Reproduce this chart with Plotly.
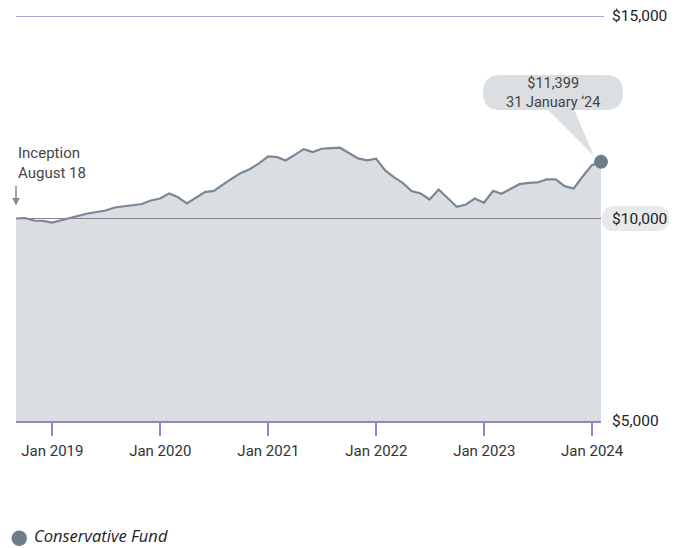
import plotly.graph_objects as go
import pandas as pd

# ---- data ----
dates = pd.date_range("2018-08-31", "2024-01-31", freq="ME")
values = [
    10000, 10012, 9951, 9940, 9901,            # Aug-Dec 2018
    9963, 10012, 10062, 10124, 10161, 10198,   # Jan-Jun 2019
    10272, 10297, 10321, 10358, 10445, 10494,  # Jul-Dec 2019
    10618, 10531, 10371, 10507, 10650, 10680,  # Jan-Jun 2020
    10840, 10989, 11125, 11224, 11360, 11533,  # Jul-Dec 2020
    11515, 11434, 11570, 11713, 11639, 11723,  # Jan-Jun 2021
    11738, 11748, 11619, 11483, 11434, 11478,  # Jul-Dec 2021
    11187, 11026, 10878, 10680, 10618, 10470,  # Jan-Jun 2022
    10717, 10512, 10289, 10346, 10494, 10388,  # Jul-Dec 2022
    10685, 10611, 10742, 10848, 10878, 10890,  # Jan-Jun 2023
    10964, 10964, 10798, 10742, 11038, 11318,  # Jul-Dec 2023
    11399,                                     # Jan 2024
]
x_tick_vals = ["2019-01-01", "2020-01-01", "2021-01-01", "2022-01-01", "2023-01-01", "2024-01-01"]
x_tick_text = ["Jan 2019", "Jan 2020", "Jan 2021", "Jan 2022", "Jan 2023", "Jan 2024"]
y_tick_vals = [5000, 10000, 15000]
y_tick_text = ["$5,000", "$10,000", "$15,000"]
end_label = "$11,399<br>31 January \u201824"
inception_label = "Inception<br>August 18"
series_name = "Conservative Fund"

# ---- layout geometry ----
W, H = 684, 548
ML, MR, MT, MB = 16, 83, 16, 127
PW, PH = W - ML - MR, H - MT - MB
FONT = "Roboto"
PURPLE = "#9d80c8"
DOT = "#6f7c8c"


def px(x):
    return (x - ML) / PW


def py(y):
    return (H - MB - y) / PH


def rounded_rect(x0, y0, x1, y1, r):
    pts = [
        f"M {px(x0 + r)} {py(y0)}",
        f"L {px(x1 - r)} {py(y0)}",
        f"Q {px(x1)} {py(y0)} {px(x1)} {py(y0 + r)}",
        f"L {px(x1)} {py(y1 - r)}",
        f"Q {px(x1)} {py(y1)} {px(x1 - r)} {py(y1)}",
        f"L {px(x0 + r)} {py(y1)}",
        f"Q {px(x0)} {py(y1)} {px(x0)} {py(y1 - r)}",
        f"L {px(x0)} {py(y0 + r)}",
        f"Q {px(x0)} {py(y0)} {px(x0 + r)} {py(y0)}",
        "Z",
    ]
    return " ".join(pts)


fig = go.Figure()
fig.add_trace(go.Scatter(
    x=dates, y=values, mode="lines", name=series_name,
    line=dict(color="#7a8797", width=2.2),
    fill="tozeroy", fillcolor="#dbdee1",
    showlegend=False, hoverinfo="skip",
))
fig.add_trace(go.Scatter(
    x=[dates[-1]], y=[values[-1]], mode="markers", name=series_name,
    marker=dict(size=14, color=DOT),
    showlegend=False, cliponaxis=False, hoverinfo="skip",
))

shapes = [
    dict(type="line", xref="paper", yref="y", x0=0, x1=px(604), y0=y_tick_vals[2], y1=y_tick_vals[2],
         line=dict(color=PURPLE, width=1.5), layer="above"),
    dict(type="line", xref="paper", yref="y", x0=0, x1=1, y0=y_tick_vals[1], y1=y_tick_vals[1],
         line=dict(color="#8c7f9c", width=1), layer="above"),
    dict(type="path", xref="paper", yref="paper", path=rounded_rect(602, 206, 669, 231, 12.5),
         fillcolor="#e8e9eb", line=dict(width=0), layer="above"),
    dict(type="path", xref="paper", yref="paper", path=rounded_rect(483, 75, 623, 110, 17.5),
         fillcolor="#dcdfe2", line=dict(width=0), layer="above"),
    dict(type="path", xref="paper", yref="paper",
         path=f"M {px(545)} {py(107)} L {px(573)} {py(107)} L {px(594)} {py(156)} Z",
         fillcolor="#dcdfe2", line=dict(width=0), layer="above"),
    # legend swatch
    dict(type="circle", xref="paper", yref="paper", x0=px(11.5), x1=px(27), y0=py(530.5), y1=py(546),
         fillcolor=DOT, line=dict(width=0), layer="above"),
]

annotations = []
for v, t in zip(y_tick_vals, y_tick_text):
    annotations.append(dict(
        x=1, xref="paper", y=v, yref="y", text=t, showarrow=False,
        xanchor="left", yanchor="middle", xshift=9, font=dict(family=FONT, size=15.5, color="#222"),
    ))
annotations.append(dict(
    x=px(553), y=py(93.5), xref="paper", yref="paper", text=end_label, showarrow=False,
    xanchor="center", yanchor="middle",
    font=dict(family=FONT, size=14.5, color="#444"), align="center",
))
annotations.append(dict(
    x=dates[0], y=values[0], xref="x", yref="y", text=inception_label, showarrow=False,
    xanchor="left", yanchor="bottom", yshift=35, align="left",
    font=dict(family=FONT, size=15, color="#444"),
))
annotations.append(dict(
    x=dates[0], y=values[0], xref="x", yref="y", text="", showarrow=True,
    ax=0, ay=-34, standoff=13, arrowhead=2, arrowsize=1, arrowwidth=1.5, arrowcolor="#888",
))
# legend label
annotations.append(dict(
    x=px(33), y=py(535.5), xref="paper", yref="paper", text=series_name, showarrow=False,
    xanchor="left", yanchor="middle", borderpad=0,
    font=dict(family="Open Sans", size=16.5, style="italic", color="#222"),
))

fig.update_layout(
    width=W, height=H,
    margin=dict(l=ML, r=MR, t=MT, b=MB, autoexpand=False),
    paper_bgcolor="white", plot_bgcolor="white",
    font=dict(family=FONT, size=15, color="#333"),
    xaxis=dict(
        type="date", range=[dates[0], dates[-1]],
        tickvals=x_tick_vals, ticktext=x_tick_text,
        ticks="outside", ticklen=13, tickwidth=1.5, tickcolor=PURPLE,
        ticklabelstandoff=2,
        showline=True, linecolor=PURPLE, linewidth=2,
        showgrid=False, zeroline=False, automargin=False,
        tickfont=dict(family=FONT, size=15, color="#333"),
    ),
    yaxis=dict(range=[5000, 15000], showticklabels=False, showgrid=False, zeroline=False,
               automargin=False),
    shapes=shapes, annotations=annotations,
    showlegend=False,
)

fig.write_html("out.html", config={"displayModeBar": False},
               post_script="document.body.style.margin='0';")
